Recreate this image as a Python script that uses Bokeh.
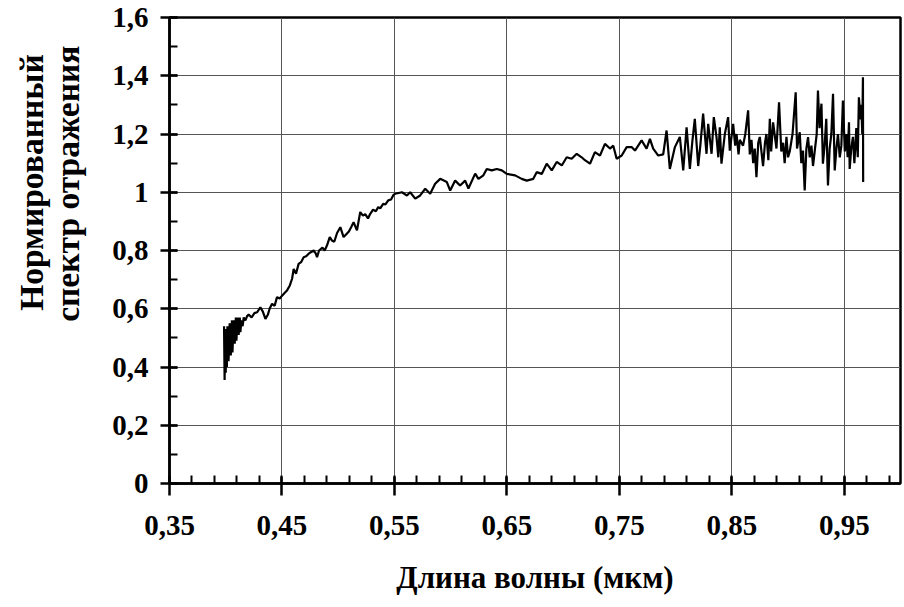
import math
from bokeh.plotting import figure
from bokeh.layouts import row
from bokeh.models import Range1d, FixedTicker, ColumnDataSource
from bokeh.core.properties import value
from bokeh.embed import file_html
from bokeh.resources import INLINE

# ---- data ----
wl_edge = [0.3985, 0.3990, 0.3995, 0.4000, 0.4005, 0.4010, 0.4015, 0.4025, 0.4035, 0.4045,
           0.4055, 0.4060, 0.4070, 0.4080, 0.4090, 0.4095, 0.4105, 0.4115, 0.4125, 0.4130,
           0.4140, 0.4150, 0.4160]
ref_edge = [0.54, 0.355, 0.52, 0.38, 0.53, 0.40, 0.54, 0.42, 0.55, 0.44,
            0.56, 0.45, 0.56, 0.48, 0.57, 0.49, 0.57, 0.51, 0.57, 0.52,
            0.56, 0.54, 0.57]

wl_rise = [0.4175, 0.4190, 0.4204, 0.4230, 0.4255, 0.4279, 0.4308, 0.4330, 0.4353, 0.4375,
           0.4390, 0.4412, 0.4435, 0.4456, 0.4480, 0.4501, 0.4525, 0.4545, 0.4570, 0.4590,
           0.4604, 0.4625, 0.4648, 0.4670, 0.4693, 0.4715, 0.4740, 0.4760, 0.4782, 0.4800,
           0.4812, 0.4830, 0.4860, 0.4880, 0.4900, 0.4925, 0.4945, 0.4965, 0.4990, 0.5019,
           0.5048, 0.5070, 0.5095, 0.5115, 0.5137, 0.5167, 0.5196, 0.5220, 0.5240, 0.5265,
           0.5285, 0.5310, 0.5335, 0.5356, 0.5374, 0.5400, 0.5420, 0.5445, 0.5470, 0.5490,
           0.5507]
ref_rise = [0.56, 0.575, 0.58, 0.57, 0.585, 0.588, 0.605, 0.59, 0.565, 0.58,
            0.60, 0.617, 0.61, 0.64, 0.635, 0.645, 0.655, 0.663, 0.68, 0.703,
            0.737, 0.72, 0.754, 0.76, 0.777, 0.78, 0.79, 0.795, 0.80, 0.79,
            0.777, 0.80, 0.81, 0.80, 0.817, 0.846, 0.834, 0.83, 0.86, 0.88,
            0.846, 0.855, 0.865, 0.88, 0.897, 0.869, 0.932, 0.92, 0.925, 0.91,
            0.926, 0.94, 0.935, 0.949, 0.945, 0.96, 0.958, 0.972, 0.975, 0.99,
            0.995]

wl_plateau = [0.5567, 0.5611, 0.5640, 0.5685, 0.5729, 0.5774, 0.5818, 0.5862, 0.5907, 0.5966,
              0.5996, 0.6040, 0.6084, 0.6129, 0.6158, 0.6218, 0.6247, 0.6291, 0.6321, 0.6366,
              0.6410, 0.6455, 0.6499, 0.6573, 0.6632, 0.6677, 0.6735, 0.6765, 0.6810, 0.6854,
              0.6899, 0.6943, 0.6988, 0.7032, 0.7076, 0.7121, 0.7165, 0.7194, 0.7239, 0.7283,
              0.7328, 0.7372, 0.7417, 0.7446, 0.7476, 0.7521, 0.7565, 0.7609, 0.7639, 0.7698,
              0.7742, 0.7772, 0.7801, 0.7846, 0.7890, 0.7920]
ref_plateau = [1.0, 0.989, 1.0, 0.978, 0.989, 1.012, 0.995, 1.029, 1.046, 1.035,
               1.006, 1.04, 1.023, 1.04, 1.013, 1.064, 1.046, 1.058, 1.08, 1.075,
               1.08, 1.075, 1.063, 1.058, 1.046, 1.04, 1.046, 1.069, 1.063, 1.098,
               1.075, 1.104, 1.092, 1.12, 1.115, 1.132, 1.12, 1.11, 1.098, 1.138,
               1.126, 1.166, 1.15, 1.16, 1.115, 1.126, 1.155, 1.155, 1.143, 1.178,
               1.15, 1.183, 1.15, 1.126, 1.13, 1.212]

wl_noisy = [0.7949, 0.7994, 0.8038, 0.8068, 0.8098, 0.8127, 0.8150, 0.8171, 0.8201, 0.8220,
            0.8245, 0.8275, 0.8290, 0.8320, 0.8340, 0.8364, 0.8380, 0.8393, 0.8408, 0.8438,
            0.8467, 0.8482, 0.8512, 0.8530, 0.8542, 0.8560, 0.8571, 0.8600, 0.8620, 0.8645,
            0.8660, 0.8675, 0.8690, 0.8704, 0.8719, 0.8735, 0.8749, 0.8778, 0.8795, 0.8808,
            0.8825, 0.8838, 0.8850, 0.8867, 0.8897, 0.8920, 0.8940, 0.8956, 0.8970, 0.8986,
            0.9000, 0.9015, 0.9040, 0.9068, 0.9080, 0.9104, 0.9118, 0.9133, 0.9148, 0.9163,
            0.9178, 0.9193, 0.9208, 0.9222, 0.9237, 0.9255, 0.9266, 0.9280, 0.9297, 0.9310,
            0.9325, 0.9340, 0.9355, 0.9370, 0.9385, 0.9400, 0.9415, 0.9430, 0.9444, 0.9460,
            0.9474, 0.9488, 0.9505, 0.9519, 0.9530, 0.9542, 0.9548, 0.9562, 0.9577, 0.9590,
            0.9607, 0.9620, 0.9630, 0.9645, 0.9652, 0.9660, 0.9666, 0.9668]
ref_noisy = [1.08, 1.155, 1.19, 1.075, 1.223, 1.08, 1.178, 1.252, 1.09, 1.16,
             1.27, 1.132, 1.235, 1.132, 1.258, 1.189, 1.12, 1.223, 1.098, 1.20,
             1.258, 1.143, 1.235, 1.16, 1.20, 1.13, 1.18, 1.16, 1.20, 1.281,
             1.13, 1.18, 1.10, 1.15, 1.052, 1.17, 1.19, 1.09, 1.17, 1.20,
             1.11, 1.252, 1.14, 1.24, 1.15, 1.309, 1.14, 1.17, 1.10, 1.19,
             1.12, 1.14, 1.20, 1.343, 1.15, 1.206, 1.10, 1.143, 1.006, 1.15,
             1.189, 1.12, 1.16, 1.09, 1.14, 1.20, 1.349, 1.22, 1.304, 1.098,
             1.16, 1.252, 1.023, 1.15, 1.20, 1.338, 1.075, 1.15, 1.20, 1.12,
             1.16, 1.315, 1.14, 1.20, 1.12, 1.24, 1.08, 1.15, 1.19, 1.10,
             1.22, 1.12, 1.326, 1.25, 1.30, 1.20, 1.395, 1.035]

x_ticks = [0.35, 0.45, 0.55, 0.65, 0.75, 0.85, 0.95]
x_tick_labels = ["0,35", "0,45", "0,55", "0,65", "0,75", "0,85", "0,95"]
y_ticks = [0, 0.2, 0.4, 0.6, 0.8, 1.0, 1.2, 1.4, 1.6]
y_tick_labels = ["0", "0,2", "0,4", "0,6", "0,8", "1", "1,2", "1,4", "1,6"]
x_minor = [round(0.35 + 0.02 * i, 2) for i in range(33)]
y_minor = [round(0.1 * i, 1) for i in range(17)]

x_title = "Длина волны (мкм)"
y_title_lines = ["Нормированный", "спектр отражения"]

wavelength = wl_edge + wl_rise + wl_plateau + wl_noisy
reflectance = ref_edge + ref_rise + ref_plateau + ref_noisy

FONT = "Liberation Serif"
TITLE_W = 95          # width of the strip that carries the vertical title
H = 607

# ---- strip with the two-line vertical y title (pixel-like coordinates) ----
t = figure(width=TITLE_W, height=H, output_backend="svg", toolbar_location=None,
           x_range=Range1d(0, TITLE_W), y_range=Range1d(0, H),
           min_border=0, x_axis_type=None, y_axis_type=None)
t.outline_line_color = None
t.grid.visible = False
t.background_fill_color = "white"
t.border_fill_color = "white"
t.text(x=[31, 67], y=[H - 215, H - 216.5], text=y_title_lines, angle=math.pi / 2,
       text_align="center", text_baseline="middle",
       text_font=value(FONT), text_font_style="bold", text_font_size="33.5px",
       text_color="black")

# ---- main chart ----
p = figure(width=904 - TITLE_W, height=H, output_backend="svg", toolbar_location=None,
           x_range=Range1d(0.35, 1.0), y_range=Range1d(0, 1.6),
           min_border_left=169 - TITLE_W, min_border_right=4, min_border_top=17,
           min_border_bottom=124)
p.background_fill_color = "white"
p.border_fill_color = "white"
p.outline_line_color = "black"
p.outline_line_width = 2.5

src = ColumnDataSource(dict(x=wavelength, y=reflectance))
p.line("x", "y", source=src, line_color="black", line_width=2.2)

p.xaxis.ticker = FixedTicker(ticks=x_ticks, minor_ticks=x_minor)
p.yaxis.ticker = FixedTicker(ticks=y_ticks, minor_ticks=y_minor)
p.xaxis.major_label_overrides = {t_: l for t_, l in zip(x_ticks, x_tick_labels)}
p.yaxis.major_label_overrides = {t_: l for t_, l in zip(y_ticks, y_tick_labels)}

for ax in (p.xaxis, p.yaxis):
    ax.axis_line_color = "black"
    ax.axis_line_width = 2.5
    ax.major_tick_line_color = "black"
    ax.major_tick_line_width = 2.5
    ax.minor_tick_line_color = "black"
    ax.minor_tick_line_width = 2
    ax.minor_tick_out = 0
    ax.minor_tick_in = 8
    ax.major_label_text_font = FONT
    ax.major_label_text_font_style = "bold"
    ax.major_label_text_font_size = "29px"
    ax.major_label_text_color = "black"
    ax.axis_label_text_font = FONT
    ax.axis_label_text_font_style = "bold"
    ax.axis_label_text_font_size = "31px"
    ax.axis_label_text_color = "black"

p.xaxis.major_tick_in = 7
p.xaxis.major_tick_out = 12
p.xaxis.major_label_standoff = 20
p.yaxis.major_tick_in = 8
p.yaxis.major_tick_out = 9
p.yaxis.major_label_standoff = 12

p.xaxis.axis_label = x_title
p.xaxis.axis_label_standoff = 22

p.xgrid.grid_line_color = "#555555"
p.xgrid.grid_line_width = 1
p.ygrid.grid_line_color = "#555555"
p.ygrid.grid_line_width = 1

layout = row(t, p, spacing=0)
open("out.html", "w").write(file_html(layout, INLINE))
